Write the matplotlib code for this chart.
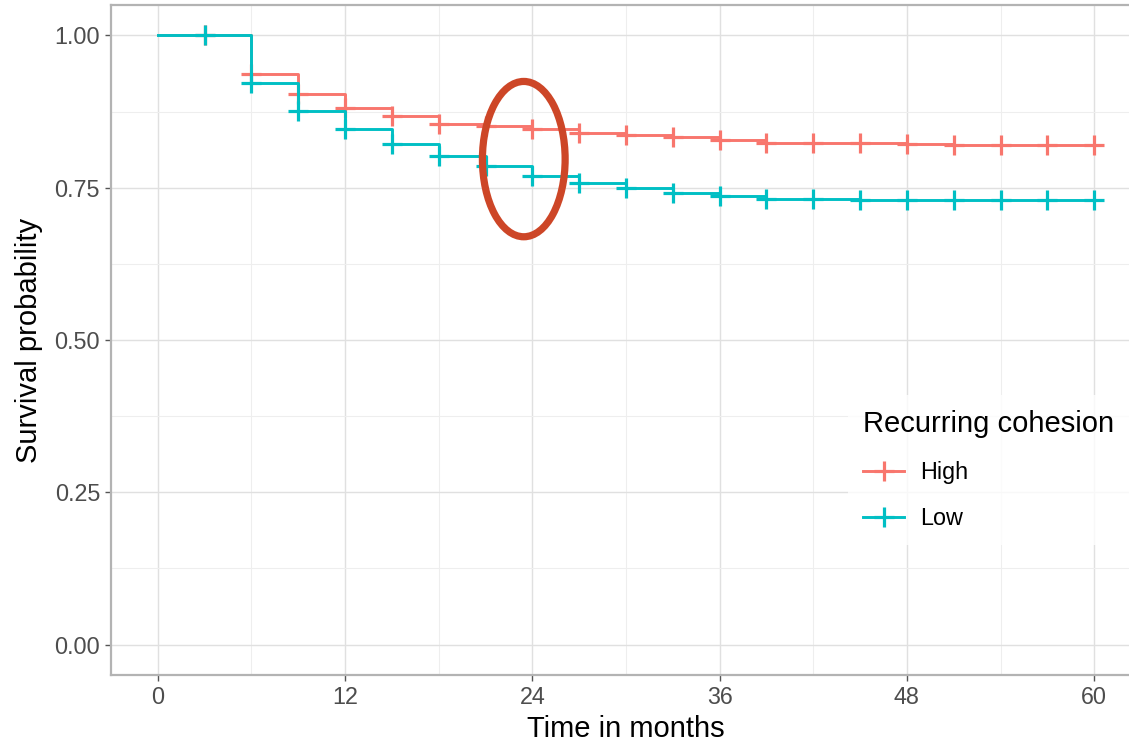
import numpy as np
import matplotlib
matplotlib.use("Agg")
import matplotlib.pyplot as plt
from matplotlib.lines import Line2D
from matplotlib.patches import Ellipse

plt.rcParams['font.family'] = ['Liberation Sans', 'DejaVu Sans']

# ---- data ----
step_times = [0, 6, 9, 12, 15, 18, 21, 24, 27, 30, 33, 36, 39, 42, 45, 48, 51, 54, 57, 60]
surv_high = [1.000, 0.937, 0.904, 0.881, 0.868, 0.855, 0.852, 0.847, 0.840, 0.837,
             0.834, 0.829, 0.824, 0.823, 0.823, 0.821, 0.820, 0.820, 0.820, 0.820]
surv_low = [1.000, 0.922, 0.876, 0.847, 0.822, 0.802, 0.785, 0.770, 0.758, 0.750,
            0.741, 0.736, 0.732, 0.731, 0.730, 0.730, 0.730, 0.730, 0.730, 0.730]
censor_times = [3, 6, 9, 12, 15, 18, 21, 24, 27, 30, 33, 36, 39, 42, 45, 48, 51, 54, 57, 60]
group_labels = ["High", "Low"]
group_colors = ["#F8766D", "#00BFC4"]
x_ticks = [0, 12, 24, 36, 48, 60]
y_ticks = [0.00, 0.25, 0.50, 0.75, 1.00]
y_ticklabels = ["0.00", "0.25", "0.50", "0.75", "1.00"]

W, H = 1129, 745
fig = plt.figure(figsize=(W / 100, H / 100), dpi=100)
ax = fig.add_axes([111 / W, 70 / H, (1141 - 111) / W, (675 - 5) / H])

ms, mew, lw = 14, 2.3, 2.1
handles = []
for surv, col, lab in zip([surv_high, surv_low], group_colors, group_labels):
    ax.step(step_times, surv, where='post', color=col, lw=lw, zorder=3)
    st = np.array(step_times)
    sv = np.array(surv)
    idx = np.searchsorted(st, censor_times, side='right') - 1
    ax.plot(censor_times, sv[idx], ls='none', marker='+', ms=ms, mew=mew,
            color=col, zorder=3)
    handles.append(Line2D([], [], color=col, lw=lw, marker='+', ms=ms, mew=mew, label=lab))

# annotation ellipse
ax.add_patch(Ellipse((23.45, 0.797), 5.3, 0.255, fill=False, edgecolor='#CD4627',
                     lw=5.2, zorder=5))

ax.set_xlim(-3, 63)
ax.set_ylim(-0.05, 1.05)
ax.set_xticks(x_ticks)
ax.set_yticks(y_ticks)
ax.set_yticklabels(y_ticklabels)
ax.set_xticks([6, 18, 30, 42, 54], minor=True)
ax.set_yticks([0.125, 0.375, 0.625, 0.875], minor=True)
ax.grid(True, which='major', color='#E0E0E0', lw=1.0, zorder=0)
ax.grid(True, which='minor', color='#EEEEEE', lw=0.8, zorder=0)
ax.set_axisbelow(True)
ax.tick_params(which='major', length=4.3, width=1.0, color='#555555',
               labelsize=16.8, labelcolor='#4D4D4D', pad=3.6)
ax.tick_params(which='minor', length=0)
for s in ax.spines.values():
    s.set_color('#B3B3B3')
    s.set_linewidth(1.6)

ax.set_xlabel("Time in months", fontsize=21, color='black', labelpad=4)
ax.set_ylabel("Survival probability", fontsize=21, color='black', labelpad=8)

leg = ax.legend(handles=handles, title="Recurring cohesion", loc='upper left',
                bbox_to_anchor=(848 / W, 1 - 395 / H), bbox_transform=fig.transFigure,
                fontsize=16.8, title_fontsize=21, frameon=True, fancybox=False,
                handlelength=1.75, handletextpad=0.7, labelspacing=0.98,
                borderpad=0.65, borderaxespad=0)
leg.get_frame().set_facecolor('white')
leg.get_frame().set_edgecolor('none')
leg._legend_box.align = 'left'
leg.set_zorder(6)

fig.savefig("out.png", dpi=100)
